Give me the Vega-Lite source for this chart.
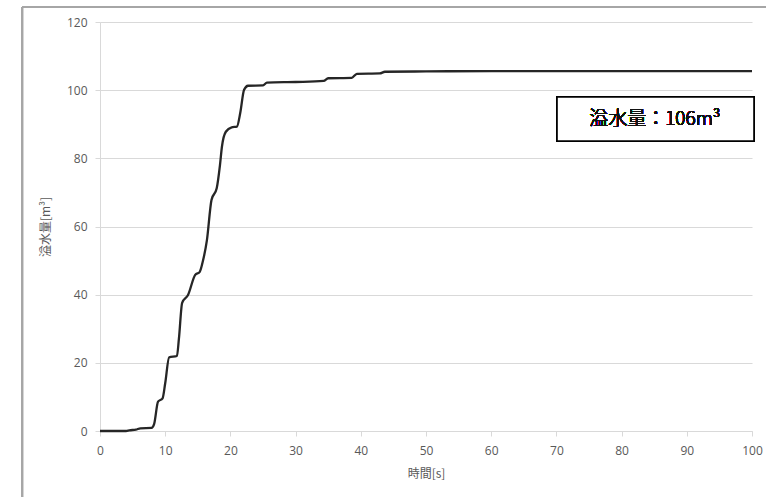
{
  "$schema": "https://vega.github.io/schema/vega-lite/v6.json",
  "autosize": "none",
  "width": 652,
  "height": 409,
  "padding": {"left": 100, "top": 22, "right": 14, "bottom": 66},
  "background": "white",
  "config": {
    "view": {"stroke": null},
    "font": "Noto Sans CJK JP"
  },
  "data": {
    "values": [
      {"t": 0, "v": 0}, {"t": 4, "v": 0}, {"t": 4.5, "v": 0.2}, {"t": 5.5, "v": 0.4},
      {"t": 6.2, "v": 0.8}, {"t": 7.9, "v": 0.9}, {"t": 8.3, "v": 2}, {"t": 8.9, "v": 8.6},
      {"t": 9.6, "v": 9.6}, {"t": 10.0, "v": 14}, {"t": 10.6, "v": 21.6}, {"t": 11.8, "v": 22},
      {"t": 12.1, "v": 27}, {"t": 12.6, "v": 37.6}, {"t": 13.5, "v": 39.9}, {"t": 14.6, "v": 45.8},
      {"t": 15.3, "v": 46.7}, {"t": 15.8, "v": 50}, {"t": 16.4, "v": 56}, {"t": 17.1, "v": 67.8},
      {"t": 17.9, "v": 71.2}, {"t": 18.4, "v": 78}, {"t": 18.7, "v": 83.4}, {"t": 19.3, "v": 87.8},
      {"t": 20.2, "v": 89.1}, {"t": 21.0, "v": 89.3}, {"t": 21.5, "v": 93.2}, {"t": 22.1, "v": 100.1},
      {"t": 22.7, "v": 101.3}, {"t": 25.0, "v": 101.4}, {"t": 25.6, "v": 102.2}, {"t": 30, "v": 102.4},
      {"t": 34.3, "v": 102.7}, {"t": 35.0, "v": 103.5}, {"t": 38.6, "v": 103.6}, {"t": 39.4, "v": 104.8},
      {"t": 42.9, "v": 104.9}, {"t": 43.7, "v": 105.4}, {"t": 50, "v": 105.5}, {"t": 60, "v": 105.6},
      {"t": 100, "v": 105.6}
    ]
  },
  "layer": [
    {
      "mark": {"type": "line", "color": "#262626", "strokeWidth": 2.3, "interpolate": "monotone"},
      "encoding": {
        "x": {
          "field": "t", "type": "quantitative",
          "scale": {"domain": [0, 100], "nice": false, "zero": false},
          "axis": {
            "title": "時間[s]", "values": [0,10,20,30,40,50,60,70,80,90,100],
            "grid": false, "domainColor": "#d9d9d9", "tickColor": "#d9d9d9", "tickSize": 5,
            "labelFlush": false, "labelOverlap": false,
            "labelFont": "Open Sans", "labelFontSize": 12, "labelColor": "#595959", "labelPadding": 9,
            "titleFont": "Noto Sans CJK JP", "titleFontSize": 12, "titleFontWeight": "normal", "titleColor": "#595959", "titlePadding": 12
          }
        },
        "y": {
          "field": "v", "type": "quantitative",
          "scale": {"domain": [0, 120], "nice": false},
          "axis": {
            "title": "溢水量[m³]", "values": [0,20,40,60,80,100,120],
            "grid": true, "gridColor": "#d9d9d9", "gridWidth": 1.2,
            "domainColor": "#d9d9d9", "tickColor": "#d9d9d9", "tickSize": 5,
            "labelFlush": false,
            "labelFont": "Open Sans", "labelFontSize": 12, "labelColor": "#595959", "labelPadding": 8,
            "titleFont": "Noto Sans CJK JP", "titleFontSize": 12, "titleFontWeight": "normal", "titleColor": "#595959", "titlePadding": 14
          }
        }
      }
    },
    {
      "mark": {"type": "rect", "fill": "white", "stroke": "black", "strokeWidth": 1.5},
      "encoding": {
        "x": {"datum": 70.1, "type": "quantitative"},
        "x2": {"datum": 100.3},
        "y": {"datum": 98.0, "type": "quantitative"},
        "y2": {"datum": 85.1}
      }
    },
    {
      "mark": {"type": "text", "text": "溢水量：106m³", "font": "Noto Sans CJK JP", "fontSize": 19, "fontWeight": 300, "color": "#111111", "align": "center", "baseline": "middle"},
      "encoding": {
        "x": {"datum": 85.1, "type": "quantitative"},
        "y": {"datum": 91.5, "type": "quantitative"}
      }
    },
    {
      "mark": {"type": "rule", "color": "#a6a6a6", "strokeWidth": 1.2},
      "encoding": {
        "x": {"datum": -11.9, "type": "quantitative"},
        "x2": {"datum": 106},
        "y": {"datum": 124.4, "type": "quantitative"}
      }
    },
    {
      "mark": {"type": "rule", "color": "#a6a6a6", "strokeWidth": 1.2},
      "encoding": {
        "x": {"datum": -11.9, "type": "quantitative"},
        "y": {"datum": 124.4, "type": "quantitative"},
        "y2": {"datum": -20}
      }
    }
  ]
}
